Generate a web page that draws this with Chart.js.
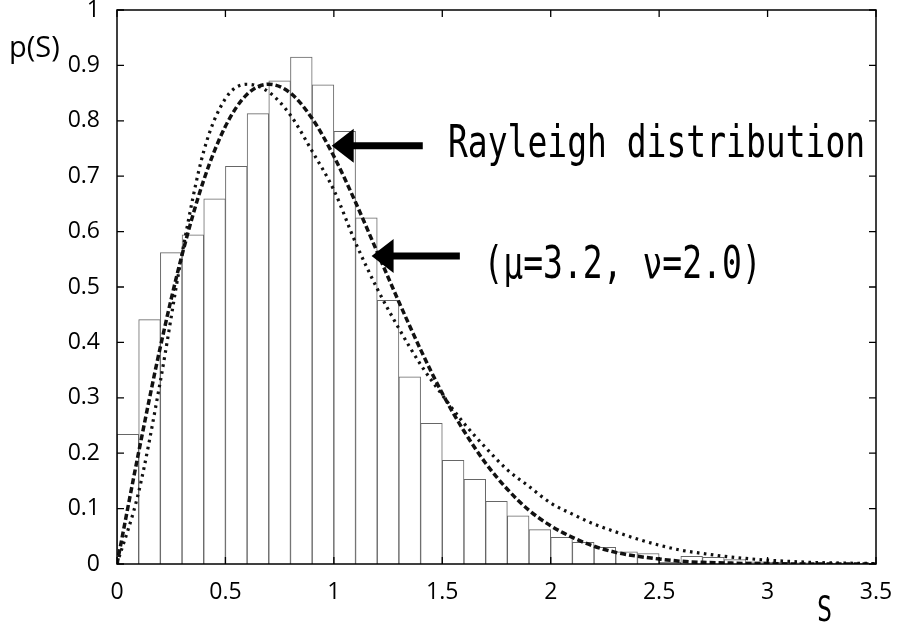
<!DOCTYPE html>
<html>
<head>
<meta charset="utf-8">
<script src="https://cdn.jsdelivr.net/npm/chart.js@4.4.0/dist/chart.umd.min.js"></script>
<style>
html,body{margin:0;padding:0;background:#fff;}
#wrap{width:900px;height:626px;position:relative;}
</style>
</head>
<body>
<div id="wrap"><canvas id="c" width="900" height="626"></canvas></div>
<script>
// ---- data ----
const binWidth = 0.1;
const binStarts = [0.0,0.1,0.2,0.3,0.4,0.5,0.6,0.7,0.8,0.9,1.0,1.1,1.2,1.3,1.4,1.5,1.6,1.7,1.8,1.9,2.0,2.1,2.2,2.3,2.4,2.5,2.6,2.7,2.8,2.9,3.0,3.1,3.2,3.3,3.4];
const histValues = [0.234,0.441,0.562,0.594,0.659,0.718,0.813,0.872,0.915,0.865,0.781,0.625,0.476,0.338,0.254,0.187,0.153,0.113,0.087,0.062,0.048,0.039,0.030,0.022,0.019,0.003,0.014,0.012,0.008,0.004,0.003,0.002,0.001,0.001,0.001];

const curveS = [0.0,0.1,0.2,0.3,0.4,0.5,0.6,0.7,0.8,0.9,1.0,1.1,1.2,1.3,1.4,1.5,1.6,1.7,1.8,1.9,2.0,2.1,2.2,2.3,2.4,2.5,2.6,2.7,2.8,2.9,3.0,3.1,3.2,3.3,3.4,3.5];
const rayleighValues = [0,0.202,0.392,0.558,0.693,0.790,0.848,0.866,0.850,0.804,0.736,0.653,0.563,0.473,0.387,0.308,0.240,0.182,0.135,0.097,0.069,0.048,0.032,0.021,0.014,0.009,0.005,0.003,0.002,0.001,0.001,0,0,0,0,0];
const fitValues = [0,0.13,0.33,0.56,0.745,0.84,0.866,0.852,0.81,0.745,0.675,0.58,0.497,0.425,0.36,0.305,0.254,0.21,0.17,0.14,0.11,0.09,0.072,0.058,0.045,0.034,0.025,0.019,0.014,0.010,0.007,0.0048,0.003,0.002,0.0013,0.0008];

const xTickValues = [0,0.5,1,1.5,2,2.5,3,3.5];
const yTickValues = [0,0.1,0.2,0.3,0.4,0.5,0.6,0.7,0.8,0.9,1];

const rayleighLabel = 'Rayleigh distribution';
const fitLabel = '(\u03BC=3.2, \u03BD=2.0)';
const xTitle = 'S';
const yTitle = 'p(S)';

// annotation anchors in data units
const arrow1 = {tipX:0.99, tailX:1.41, y:0.755};
const arrow2 = {tipX:1.174, tailX:1.581, y:0.556};
const text1 = {x:1.526, y:0.734};
const text2 = {x:1.69, y:0.517};

const tickFont = {family:'"Open Sans"', size:23};

const framePlugin = {
  id:'frame',
  afterDatasetsDraw(chart){
    const ctx = chart.ctx;
    const a = chart.chartArea;
    const xs = chart.scales.x, ys = chart.scales.y;
    ctx.save();
    ctx.strokeStyle = '#000';
    ctx.lineWidth = 1.5;
    ctx.strokeRect(a.left, a.top, a.right - a.left, a.bottom - a.top);
    ctx.lineWidth = 1.3;
    ctx.beginPath();
    const tl = 7;
    yTickValues.forEach(v => {
      const p = ys.getPixelForValue(v);
      ctx.moveTo(a.left, p); ctx.lineTo(a.left + tl, p);
      ctx.moveTo(a.right, p); ctx.lineTo(a.right - tl, p);
    });
    xTickValues.forEach(v => {
      const p = xs.getPixelForValue(v);
      ctx.moveTo(p, a.bottom); ctx.lineTo(p, a.bottom - tl);
      ctx.moveTo(p, a.top); ctx.lineTo(p, a.top + tl);
    });
    ctx.stroke();

    // arrows
    ctx.fillStyle = '#000';
    [arrow1, arrow2].forEach(ar => {
      const tip = xs.getPixelForValue(ar.tipX);
      const tail = xs.getPixelForValue(ar.tailX);
      const py = ys.getPixelForValue(ar.y);
      const headLen = 22, headHalf = 17, shaft = 3.5;
      ctx.beginPath();
      ctx.moveTo(tip, py);
      ctx.lineTo(tip + headLen, py - headHalf);
      ctx.lineTo(tip + headLen, py - shaft);
      ctx.lineTo(tail, py - shaft);
      ctx.lineTo(tail, py + shaft);
      ctx.lineTo(tip + headLen, py + shaft);
      ctx.lineTo(tip + headLen, py + headHalf);
      ctx.closePath();
      ctx.fill();
    });

    // annotation texts
    ctx.textBaseline = 'alphabetic';
    ctx.textAlign = 'left';
    [[rayleighLabel, text1], [fitLabel, text2]].forEach(([t, pos]) => {
      ctx.save();
      ctx.translate(xs.getPixelForValue(pos.x), ys.getPixelForValue(pos.y));
      ctx.scale(0.75, 1);
      ctx.font = '44px "DejaVu Sans Mono"';
      ctx.fillText(t, 0, 0);
      ctx.restore();
    });

    // axis titles
    ctx.save();
    ctx.translate(817, 621);
    ctx.scale(0.7, 1);
    ctx.font = '36px "DejaVu Sans Mono"';
    ctx.fillText(xTitle, 0, 0);
    ctx.restore();

    ctx.font = '29px "Open Sans"';
    ctx.fillText(yTitle, 9, 57);
    ctx.restore();
  }
};

function zeroPad(s){ s.paddingLeft = 0; s.paddingRight = 0; s.paddingTop = 0; s.paddingBottom = 0; }

new Chart(document.getElementById('c').getContext('2d'), {
  type:'bar',
  data:{
    datasets:[
      {
        type:'line', label:rayleighLabel,
        data:curveS.map((s,i)=>({x:s, y:rayleighValues[i]})),
        borderColor:'#111', borderWidth:3.5, borderDash:[6,3],
        pointRadius:0, fill:false, cubicInterpolationMode:'monotone', order:1
      },
      {
        type:'line', label:fitLabel,
        data:curveS.map((s,i)=>({x:s, y:fitValues[i]})),
        borderColor:'#111', borderWidth:3.2, borderDash:[2.6,4.4],
        pointRadius:0, fill:false, cubicInterpolationMode:'monotone', order:1
      },
      {
        type:'bar', label:'histogram',
        data:binStarts.map((b,i)=>({x:b + binWidth/2, y:histValues[i]})),
        backgroundColor:'#ffffff', borderColor:'#666', borderWidth:1,
        barPercentage:1, categoryPercentage:1, order:2
      }
    ]
  },
  options:{
    responsive:false, animation:false, devicePixelRatio:1,
    layout:{padding:{left:0, right:24, top:10, bottom:0}},
    plugins:{legend:{display:false}, tooltip:{enabled:false}},
    scales:{
      x:{
        type:'linear', min:0, max:3.5, offset:false,
        grid:{display:false, drawTicks:false, offset:false},
        border:{display:false},
        afterBuildTicks:s=>{ s.ticks = xTickValues.map(v=>({value:v})); },
        afterFit:s=>{ s.height = 62; zeroPad(s); },
        ticks:{font:tickFont, color:'#000', padding:15, maxRotation:0, autoSkip:false, callback:v=>String(v)}
      },
      y:{
        type:'linear', min:0, max:1,
        grid:{display:false, drawTicks:false},
        border:{display:false},
        afterBuildTicks:s=>{ s.ticks = yTickValues.map(v=>({value:v})); },
        afterFit:s=>{ s.width = 117; zeroPad(s); },
        ticks:{font:tickFont, color:'#000', padding:17, autoSkip:false, callback:v=>String(v)}
      }
    }
  },
  plugins:[framePlugin]
});
</script>
</body>
</html>
